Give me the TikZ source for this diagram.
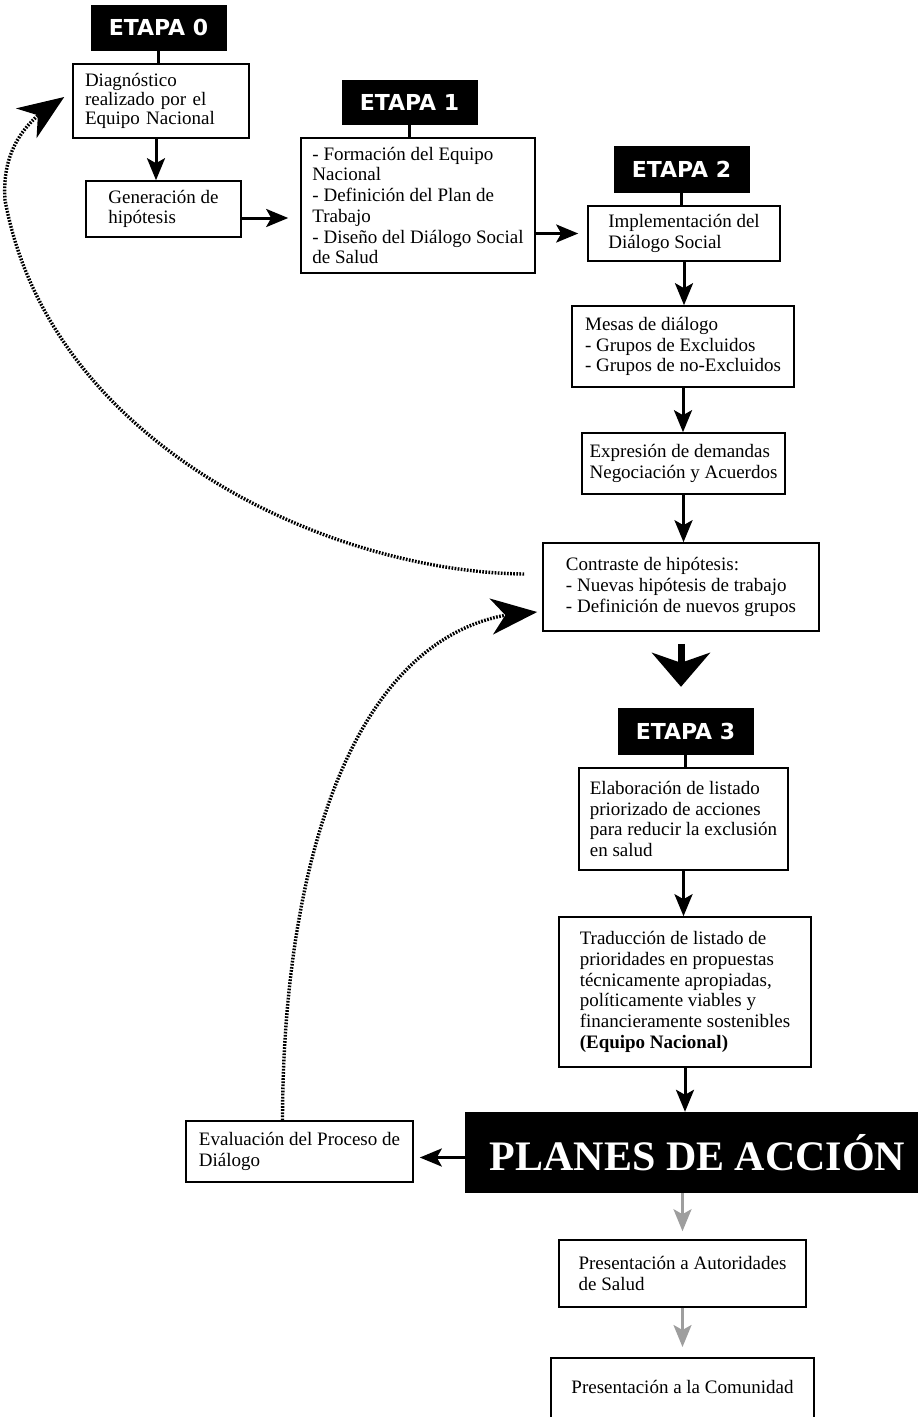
\documentclass[tikz,border=0pt]{standalone}
\usepackage{fontspec}
\setmainfont{Liberation Serif}
\newfontfamily\etapafont{DejaVu Sans}
\usetikzlibrary{arrows.meta,bending}

\begin{document}
\begin{tikzpicture}[x=1pt,y=-1pt,
    etapa/.style={fill=black, text=white, inner sep=0pt, minimum width=136, minimum height=46,
        font=\etapafont\bfseries\fontsize{22}{26}\selectfont},
    box/.style={draw, line width=1.6pt, align=left, inner sep=0pt,
        font=\fontsize{19}{20.7}\selectfont},
    link/.style={line width=2.5pt},
    arr/.style={line width=3pt, -{Stealth[length=22pt,width=18pt,inset=5pt]}},
    grayarr/.style={arr, draw=black!38, line width=2.5pt},
    fatarr/.style={line width=7pt, -{Stealth[length=34pt,width=58pt,inset=10pt]}},
    dots/.style={line width=3.4pt, dash pattern=on 1.7pt off 1.4pt,
        -{Stealth[length=46pt,width=36pt,inset=14pt,flex]}}]
    \useasboundingbox (0,0) rectangle (918,1417);
    \clip (0,0) rectangle (918,1417);

    % Etapa 0
    \node[etapa] (etapa0) at (158.5,27.5) {ETAPA 0};
    \node[box, text width=152, inner xsep=12pt, minimum height=74,
        font=\fontsize{19}{19}\selectfont] (diag) at (161,101)
        {Diagnóstico\\realizado por el\\Equipo Nacional};
    \node[box, minimum width=155, minimum height=56] (hipot) at (163.5,209)
        {Generación de\\hipótesis};

    % Etapa 1
    \node[etapa, minimum height=45] (etapa1) at (409.5,102.5) {ETAPA 1};
    \node[box, minimum width=234, minimum height=135] (form) at (418,205.5)
        {- Formación del Equipo\\Nacional\\- Definición del Plan de\\Trabajo\\- Diseño del Diálogo Social\\de Salud};

    % Etapa 2
    \node[etapa, minimum height=47] (etapa2) at (681.5,169.5) {ETAPA 2};
    \node[box, minimum width=192, minimum height=55] (impl) at (684,233.5)
        {Implementación del\\Diálogo Social};
    \node[box, minimum width=222, minimum height=81] (mesas) at (683,346.5)
        {Mesas de diálogo\\- Grupos de Excluidos\\- Grupos de no-Excluidos};
    \node[box, minimum width=203, minimum height=61] (demandas) at (683.5,463.5)
        {Expresión de demandas\\Negociación y Acuerdos};
    \node[box, minimum width=276, minimum height=88] (contraste) at (681,587)
        {Contraste de hipótesis:\\- Nuevas hipótesis de trabajo\\- Definición de nuevos grupos};

    % Etapa 3
    \node[etapa, minimum height=47] (etapa3) at (685.5,731.5) {ETAPA 3};
    \node[box, minimum width=209, minimum height=102] (listado) at (683.5,819)
        {Elaboración de listado\\priorizado de acciones\\para reducir la exclusión\\en salud};
    \node[box, minimum width=252, minimum height=150] (traduc) at (685,992)
        {Traducción de listado de\\prioridades en propuestas\\técnicamente apropiadas,\\políticamente viables y\\financieramente sostenibles\\\textbf{(Equipo Nacional)}};

    % Planes de accion
    \node[fill=black, text=white, minimum width=465, minimum height=81, inner sep=0pt,
        font=\bfseries\fontsize{42}{48}\selectfont] (planes) at (697.5,1152.5) {PLANES DE ACCIÓN};
    \node[box, minimum width=227, minimum height=61] (evalua) at (299.5,1151.5)
        {Evaluación del Proceso de\\Diálogo};
    \node[box, minimum width=247, minimum height=67] (autoridades) at (682.5,1273.5)
        {Presentación a Autoridades\\de Salud};
    \node[box, anchor=north, minimum width=263, inner ysep=22pt, text height=14pt, text depth=56pt]
        (comunidad) at (682.5,1357) {Presentación a la Comunidad};

    % links and arrows
    \draw[link] (etapa0) -- (etapa0 |- diag.north);
    \draw[arr] ([xshift=-5pt]diag.south) -- ([xshift=-5pt]diag.south |- hipot.north);
    \draw[arr, shorten >=12pt] ([yshift=-9pt]hipot.east) -- ([yshift=-9pt]hipot.east -| form.west);
    \draw[link] (etapa1) -- (etapa1 |- form.north);
    \draw[arr, shorten >=9pt] (form.east |- impl.west) -- (impl.west);
    \draw[link] (etapa2) -- (etapa2 |- impl.north);
    \draw[arr] (impl.south) -- (impl.south |- mesas.north);
    \draw[arr] (mesas.south) -- (mesas.south |- demandas.north);
    \draw[arr] (demandas.south) -- (demandas.south |- contraste.north);
    \draw[fatarr, shorten <=12pt, shorten >=21pt] (contraste.south) -- (contraste.south |- etapa3.north);
    \draw[link] (etapa3) -- (etapa3 |- listado.north);
    \draw[arr] (listado.south) -- (listado.south |- traduc.north);
    \draw[arr] (traduc.south) -- (traduc.south |- planes.north);
    \draw[arr, shorten >=6pt] ([yshift=-5pt]planes.west) -- ([yshift=-5pt]planes.west -| evalua.east);
    \draw[grayarr, shorten >=8pt] (planes.south -| autoridades.north) -- (autoridades.north);
    \draw[grayarr, shorten >=10pt] (autoridades.south) -- (comunidad.north);

    % feedback loops
    \draw[dots] ([shift={(-18,-13)}]contraste.west) .. controls (330,572) and (50,445) .. (5,200)
        .. controls (2,155) and (20,122) .. ([shift={(-8,-4)}]diag.west);
    \draw[dots] ([xshift=-17pt]evalua.north) .. controls (283,850) and (360,615) .. ([shift={(-5,25)}]contraste.west);
\end{tikzpicture}
\end{document}
